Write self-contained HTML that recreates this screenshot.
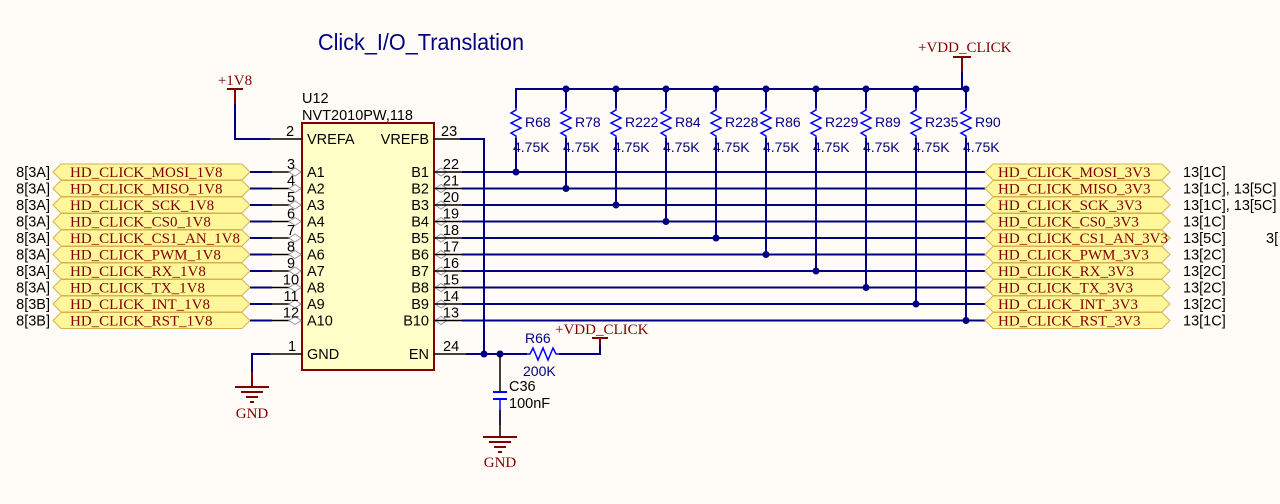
<!DOCTYPE html>
<html><head><meta charset="utf-8"><style>
html,body{margin:0;padding:0;background:#fffcf8;}
svg{display:block}
.s{font-family:"Liberation Sans",sans-serif;font-size:14.5px;fill:#000}
.r{font-family:"Liberation Serif",serif;font-size:15px;fill:#800000}
.b{font-family:"Liberation Sans",sans-serif;font-size:14px;fill:#000080}
</style></head><body>
<svg width="1280" height="504" viewBox="0 0 1280 504" xmlns="http://www.w3.org/2000/svg">
<rect width="1280" height="504" fill="#fffcf8"/>
<text x="318" y="50" font-family="Liberation Sans,sans-serif" font-size="23" fill="#000080" textLength="206" lengthAdjust="spacingAndGlyphs">Click_I/O_Translation</text>

<rect x="302" y="123" width="132" height="247" fill="#ffffc8" stroke="#800000" stroke-width="2"/>
<text class="s" x="302" y="103">U12</text>
<text class="s" x="302" y="120">NVT2010PW,118</text>
<text class="s" x="307" y="144">VREFA</text>
<text class="s" x="429" y="144" text-anchor="end">VREFB</text>
<text class="s" x="307" y="359">GND</text>
<text class="s" x="429" y="359" text-anchor="end">EN</text>
<text class="r" x="235" y="85" text-anchor="middle" font-size="14">+1V8</text>
<line x1="227" y1="89" x2="243" y2="89" stroke="#800000" stroke-width="2"/>
<polyline points="235,89 235,139 270,139" fill="none" stroke="#000080" stroke-width="2"/>
<line x1="235" y1="89" x2="235" y2="104" stroke="#800000" stroke-width="2"/>
<line x1="270" y1="139" x2="302" y2="139" stroke="#000" stroke-width="1.5"/>
<text class="s" x="286" y="136">2</text>
<line x1="434" y1="139" x2="460" y2="139" stroke="#000" stroke-width="1.5"/>
<text class="s" x="441" y="136">23</text>
<polyline points="460,139 484,139 484,354" fill="none" stroke="#000080" stroke-width="2"/>
<line x1="270" y1="354" x2="302" y2="354" stroke="#000" stroke-width="1.5"/>
<text class="s" x="288" y="351">1</text>
<polyline points="270,354 252,354 252,372" fill="none" stroke="#000080" stroke-width="2"/>
<line x1="252" y1="372" x2="252" y2="387" stroke="#800000" stroke-width="2"/>
<line x1="235" y1="387" x2="269" y2="387" stroke="#800000" stroke-width="2"/>
<line x1="241" y1="392" x2="263" y2="392" stroke="#800000" stroke-width="2"/>
<line x1="246" y1="397" x2="258" y2="397" stroke="#800000" stroke-width="2"/>
<line x1="250" y1="402" x2="254" y2="402" stroke="#800000" stroke-width="2"/>
<text class="r" x="252" y="418" text-anchor="middle">GND</text>
<line x1="434" y1="354" x2="466" y2="354" stroke="#000" stroke-width="1.5"/>
<text class="s" x="443" y="351">24</text>
<polyline points="466,354 527,354" fill="none" stroke="#000080" stroke-width="2"/>
<circle cx="484" cy="354" r="3.5" fill="#000080"/>
<circle cx="500" cy="354" r="3.5" fill="#000080"/>
<polyline points="527,354 530,354 533,348 538,360 543,348 548,360 553,348 556,354 559,354" fill="none" stroke="#0000ff" stroke-width="1.5"/>
<polyline points="559,354 600,354 600,339" fill="none" stroke="#000080" stroke-width="2"/>
<line x1="592" y1="338" x2="608" y2="338" stroke="#800000" stroke-width="2"/>
<line x1="600" y1="338" x2="600" y2="345" stroke="#800000" stroke-width="2"/>
<text class="r" x="555" y="334" font-size="14">+VDD_CLICK</text>
<text class="b" x="525" y="343">R66</text>
<text class="b" x="523" y="376">200K</text>
<line x1="500" y1="354" x2="500" y2="392" stroke="#000" stroke-width="1.5"/>
<line x1="493" y1="392" x2="507" y2="392" stroke="#0000ff" stroke-width="2"/>
<line x1="493" y1="399" x2="507" y2="399" stroke="#0000ff" stroke-width="2"/>
<line x1="500" y1="399" x2="500" y2="425" stroke="#0000ff" stroke-width="1.5"/>
<line x1="500" y1="410" x2="500" y2="437" stroke="#000" stroke-width="1.5"/>
<text class="s" x="509" y="391">C36</text>
<text class="s" x="509" y="408">100nF</text>
<line x1="483" y1="437" x2="517" y2="437" stroke="#800000" stroke-width="2"/>
<line x1="489" y1="442" x2="511" y2="442" stroke="#800000" stroke-width="2"/>
<line x1="494" y1="447" x2="506" y2="447" stroke="#800000" stroke-width="2"/>
<line x1="498" y1="452" x2="502" y2="452" stroke="#800000" stroke-width="2"/>
<text class="r" x="500" y="467" text-anchor="middle">GND</text>

<text class="r" x="918" y="52" font-size="14">+VDD_CLICK</text>
<line x1="953" y1="57" x2="971" y2="57" stroke="#800000" stroke-width="2"/>
<line x1="962" y1="57" x2="962" y2="72" stroke="#800000" stroke-width="2"/>
<line x1="962" y1="72" x2="962" y2="89" stroke="#000080" stroke-width="2"/>
<polyline points="516,108 516,89 966,89" fill="none" stroke="#000080" stroke-width="2"/>
<text class="s" x="1266" y="243">3[</text>
</svg>
<script>
var svg=document.querySelector('svg');var NS='http://www.w3.org/2000/svg';
function el(t,a,txt){var e=document.createElementNS(NS,t);for(var k in a)e.setAttribute(k,a[k]);if(txt!=null)e.textContent=txt;svg.appendChild(e);return e;}
var L=['MOSI','MISO','SCK','CS0','CS1_AN','PWM','RX','TX','INT','RST'];
var LR=['8[3A]','8[3A]','8[3A]','8[3A]','8[3A]','8[3A]','8[3A]','8[3A]','8[3B]','8[3B]'];
var RR=['13[1C]','13[1C], 13[5C]','13[1C], 13[5C]','13[1C]','13[5C]','13[2C]','13[2C]','13[2C]','13[2C]','13[1C]'];
var RN=['R68','R78','R222','R84','R228','R86','R229','R89','R235','R90'];
for(var i=0;i<10;i++){
 var y=172+16.5*i;
 el('text',{class:'s',x:50,y:y+5,'text-anchor':'end'},LR[i]);
 el('polygon',{points:'53,'+y+' 61,'+(y-8)+' 242,'+(y-8)+' 250,'+y+' 242,'+(y+8)+' 61,'+(y+8),fill:'#fff799',stroke:'#d8b050','stroke-width':1});
 el('text',{class:'r',x:70,y:y+5},'HD_CLICK_'+L[i]+'_1V8');
 el('line',{x1:250,y1:y,x2:272,y2:y,stroke:'#000080','stroke-width':2});
 el('line',{x1:272,y1:y,x2:302,y2:y,stroke:'#000','stroke-width':1.5});
 el('polygon',{points:'289,'+y+' 295,'+(y-4)+' 301,'+y+' 295,'+(y+4),fill:'#fff',stroke:'#999','stroke-width':1});
 el('text',{class:'s',x:291,y:y-3,'text-anchor':'middle'},String(3+i));
 el('text',{class:'s',x:307,y:y+5},'A'+(i+1));
 el('text',{class:'s',x:429,y:y+5,'text-anchor':'end'},'B'+(i+1));
 el('polygon',{points:'435,'+y+' 441,'+(y-4)+' 447,'+y+' 441,'+(y+4),fill:'#fff',stroke:'#999','stroke-width':1});
 el('line',{x1:434,y1:y,x2:462,y2:y,stroke:'#000','stroke-width':1.5});
 el('text',{class:'s',x:451,y:y-3,'text-anchor':'middle'},String(22-i));
 el('line',{x1:462,y1:y,x2:986,y2:y,stroke:'#000080','stroke-width':2});
 el('polygon',{points:'985,'+y+' 993,'+(y-8)+' 1162,'+(y-8)+' 1170,'+y+' 1162,'+(y+8)+' 993,'+(y+8),fill:'#fff799',stroke:'#d8b050','stroke-width':1});
 el('text',{class:'r',x:998,y:y+5},'HD_CLICK_'+L[i]+'_3V3');
 el('text',{class:'s',x:1183,y:y+5},RR[i]);
 var x=516+50*i;
 if(i>0)el('circle',{cx:x,cy:89,r:3.5,fill:'#000080'});
 el('line',{x1:x,y1:89,x2:x,y2:108,stroke:'#000080','stroke-width':2});
 el('polyline',{points:x+',108 '+x+',110 '+(x-5)+',113 '+(x+5)+',118 '+(x-5)+',123 '+(x+5)+',128 '+(x-5)+',133 '+x+',136 '+x+',138',fill:'none',stroke:'#0000ff','stroke-width':1.5});
 el('line',{x1:x,y1:138,x2:x,y2:y,stroke:'#000080','stroke-width':2});
 el('circle',{cx:x,cy:y,r:3.5,fill:'#000080'});
 el('text',{class:'b',x:x+9,y:127},RN[i]);
 el('text',{class:'b',x:x-3,y:152},'4.75K');
}
</script>
</body></html>
